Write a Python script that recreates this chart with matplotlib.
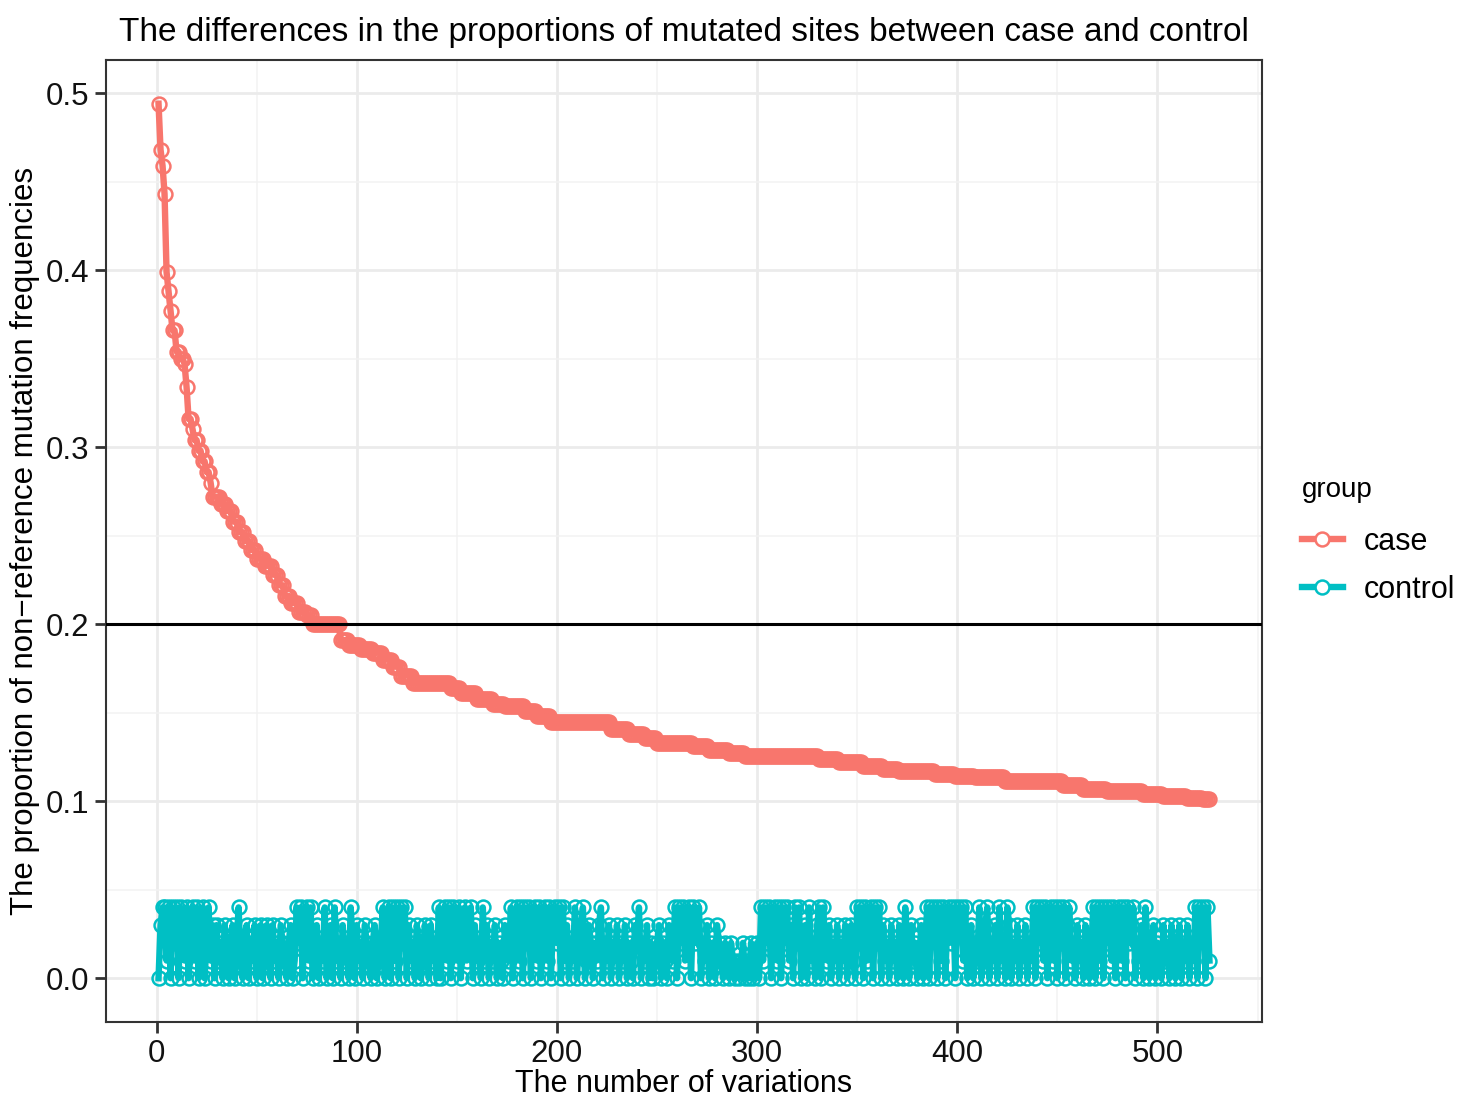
import numpy as np
import matplotlib
matplotlib.use("Agg")
import matplotlib.pyplot as plt
from matplotlib.lines import Line2D

#DATA
#case curve read off the picture as plateaus: level and how many variations sit on it
case_levels = [0.494, 0.468, 0.459, 0.443, 0.399, 0.388, 0.377, 0.366, 0.354, 0.350,
               0.347, 0.334, 0.316, 0.310, 0.304, 0.298, 0.292, 0.286, 0.280, 0.272,
               0.268, 0.264, 0.258, 0.252, 0.247, 0.242, 0.237, 0.233, 0.228, 0.222,
               0.216, 0.212, 0.207, 0.205, 0.200, 0.191, 0.188, 0.186, 0.184, 0.180,
               0.176, 0.171, 0.167, 0.164, 0.161, 0.158, 0.155, 0.1537, 0.151, 0.148,
               0.1445, 0.1406, 0.138, 0.1355, 0.133, 0.131, 0.129, 0.127, 0.1256, 0.124,
               0.122, 0.120, 0.118, 0.117, 0.1155, 0.114, 0.1134, 0.1115, 0.109, 0.107,
               0.106, 0.104, 0.103, 0.102, 0.101]
case_counts = [1, 1, 1, 1, 1, 1, 1, 2, 2, 2,
               1, 1, 2, 1, 2, 2, 2, 2, 1, 4,
               3, 3, 3, 3, 3, 3, 4, 4, 3, 3,
               3, 4, 4, 3, 14, 4, 6, 6, 5, 5,
               4, 6, 19, 5, 8, 8, 6, 10, 6, 7,
               30, 9, 8, 6, 18, 8, 10, 8, 37, 10,
               12, 10, 8, 18, 10, 10, 15, 29, 10, 12,
               18, 10, 12, 8, 4]

#control values in hundredths (0.00 .. 0.04), one digit per variation
control_digits = (
    "0344140424" "0431402414" "0340241303" "1203201302" "4102302130"
    "2301320312" "0321023014" "2403414023" "0214023041" "2031204203"
    "1203210230" "1240340414" "0424031203" "2013203120" "4034140421"
    "4034124031" "2041302130" "2103214034" "1404240341" "4024140342"
    "4041302140" "2340132021" "3402130213" "0213021032" "4021302012"
    "3021032140" "4241340423" "4021302103" "2102102101" "0120102012"
    "0414240341" "4042413042" "4023041203" "4042130213" "0213023104"
    "2404134042" "4031203120" "3104203120" "1302404340" "4140342404"
    "3414023021" "4013402130" "4120430213" "0213021404" "2414034140"
    "4240341203" "1203102404" "1404241403" "4140423402" "1304201302"
    "1031203102" "3021302140" "434041"
)
control = [int(c) / 100 for c in control_digits]

x_ticks = [0, 100, 200, 300, 400, 500]
y_ticks = [0.0, 0.1, 0.2, 0.3, 0.4, 0.5]
y_tick_labels = ["0.0", "0.1", "0.2", "0.3", "0.4", "0.5"]
cutoff = 0.2

CASE_COL = "#F8766D"
CTRL_COL = "#00BFC4"
LW = 4.6
MS = 10
MEW = 1.8

plt.rcParams['font.family'] = ['Liberation Sans', 'DejaVu Sans']

case = np.repeat(case_levels, case_counts)
x_case = np.arange(1, len(case) + 1)
x_ctrl = np.arange(1, len(control) + 1)

fig = plt.figure(figsize=(14.6, 10.97), dpi=100)
ax = fig.add_axes([0.0726, 0.0684, 0.8644 - 0.0726, 0.9453 - 0.0684])

#grid like theme_bw
ax.set_facecolor("white")
ax.set_xticks([50, 150, 250, 350, 450, 550], minor=True)
ax.set_yticks([0.05, 0.15, 0.25, 0.35, 0.45], minor=True)
ax.grid(which="major", color="#EBEBEB", linewidth=2.0, zorder=0)
ax.grid(which="minor", color="#F2F2F2", linewidth=1.1, zorder=0)
ax.tick_params(which="minor", length=0)

ax.plot(x_case, case, color=CASE_COL, linewidth=LW, marker="o", markersize=MS,
        markerfacecolor="none", markeredgecolor=CASE_COL, markeredgewidth=MEW, zorder=3)
ax.plot(x_ctrl, control, color=CTRL_COL, linewidth=LW, marker="o", markersize=MS,
        markerfacecolor="none", markeredgecolor=CTRL_COL, markeredgewidth=MEW, zorder=3)
ax.axhline(cutoff, color="black", linewidth=2.2, zorder=4)

n = max(len(case), len(control))
ax.set_xlim(1 - 0.05 * (n - 1), n + 0.05 * (n - 1))
ymax = max(case.max(), max(control))
ax.set_ylim(-0.05 * ymax, ymax * 1.05)

ax.set_xticks(x_ticks)
ax.set_xticklabels([str(t) for t in x_ticks])
ax.set_yticks(y_ticks)
ax.set_yticklabels(y_tick_labels)
ax.tick_params(which="major", length=8, width=2, color="#333333",
               labelsize=22.5, labelcolor="#111111", pad=4)

for s in ax.spines.values():
    s.set_color("#333333")
    s.set_linewidth(1.5)

ax.set_xlabel("The number of variations", fontsize=22, labelpad=0)
ax.set_ylabel("The proportion of non\u2212reference mutation frequencies", fontsize=22.5, labelpad=4)
ax.set_title("The differences in the proportions of mutated sites between case and control",
             fontsize=24, pad=14)

handles = [
    Line2D([], [], color=CASE_COL, linewidth=LW, marker="o", markersize=MS,
           markerfacecolor="white", markeredgecolor=CASE_COL, markeredgewidth=MEW),
    Line2D([], [], color=CTRL_COL, linewidth=LW, marker="o", markersize=MS,
           markerfacecolor="white", markeredgecolor=CTRL_COL, markeredgewidth=MEW),
]
leg = fig.legend(handles, ["case", "control"], title="group", loc="upper left",
                 bbox_to_anchor=(0.8915, 0.565), frameon=False, fontsize=22,
                 title_fontsize=20, handlelength=1.35, handletextpad=0.7,
                 labelspacing=0.6, borderaxespad=0, borderpad=0)
leg._legend_box.align = "left"
leg._legend_box.sep = 17

fig.savefig("out.png", dpi=100)
